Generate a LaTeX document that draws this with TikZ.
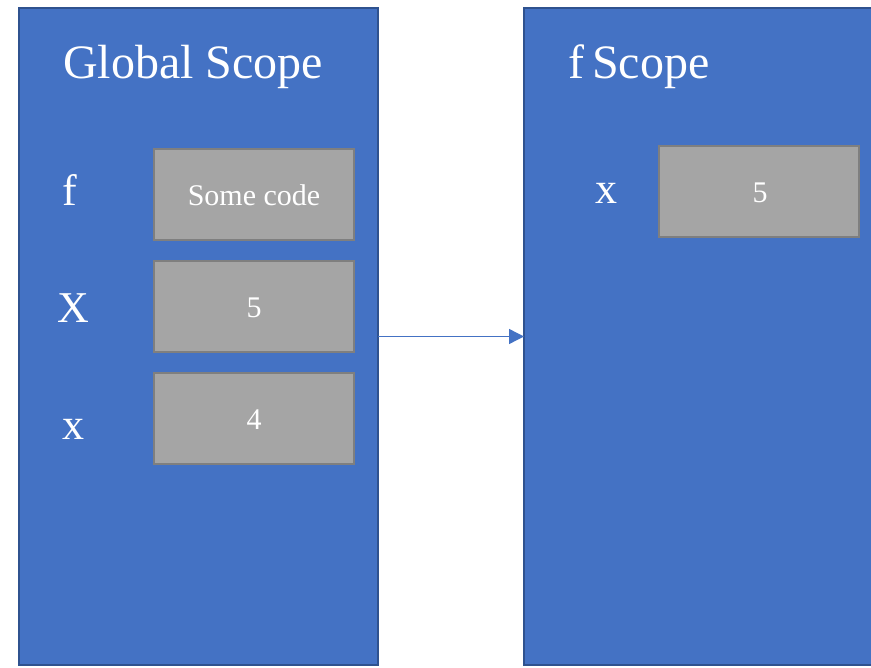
\documentclass[tikz,border=0pt]{standalone}
\usepackage{fontspec}
\setmainfont{Liberation Serif}
\usetikzlibrary{arrows.meta}
\definecolor{panelfill}{HTML}{4472C4}
\definecolor{paneldraw}{HTML}{2F528F}
\definecolor{boxfill}{HTML}{A5A5A5}
\definecolor{boxdraw}{HTML}{7F7F7F}
\tikzset{
  panel/.style={rectangle, fill=panelfill, draw=paneldraw, line width=2pt, anchor=north west, inner sep=0pt, outer sep=0pt},
  valbox/.style={rectangle, fill=boxfill, draw=boxdraw, line width=2.2pt, anchor=north west, inner sep=0pt, outer sep=0pt, minimum width=200pt, minimum height=91pt},
  title/.style={text=white, font=\fontsize{48}{52}\selectfont, anchor=base west, inner sep=0pt},
  varlabel/.style={text=white, font=\fontsize{44}{48}\selectfont, anchor=base, inner sep=0pt},
  valtext/.style={text=white, font=\fontsize{30}{34}\selectfont, anchor=base, inner sep=0pt},
}
\begin{document}
\begin{tikzpicture}[x=1pt,y=-1pt]
\useasboundingbox (0,0) rectangle (871,668);
\clip (0,0) rectangle (871,668);
% panels
\node[panel, minimum width=359pt, minimum height=657pt] (gs) at (19,8) {};
\node[panel, minimum width=400pt, minimum height=657pt] (fs) at (524,8) {};
% titles
\node[title] (gtitle) at (63,79) {Global Scope};
\node[title] (ftitle) at (568,79) {f\,Scope};
% global boxes
\node[valbox] (bf) at (154,149) {};
\node[valbox] (bX) at (154,261) {};
\node[valbox] (bx) at (154,373) {};
\node[valtext] (tf) at (254,206) {Some code};
\node[valtext] (tX) at (254,318) {5};
\node[valtext] (tx) at (254,430) {4};
% global labels
\node[varlabel] (lf) at (70,206) {f};
\node[varlabel] (lX) at (73,323) {X};
\node[varlabel] (lx) at (73,440) {x};
% f scope
\node[valbox] (fbx) at (659,146) {};
\node[valtext] (ftx) at (760,203) {5};
\node[varlabel] (flx) at (606,204) {x};
% arrow
\draw[draw=panelfill, line width=1.4pt, -{Triangle[length=15pt,width=15pt]}] (gs.east) -- (fs.west);
\end{tikzpicture}
\end{document}
